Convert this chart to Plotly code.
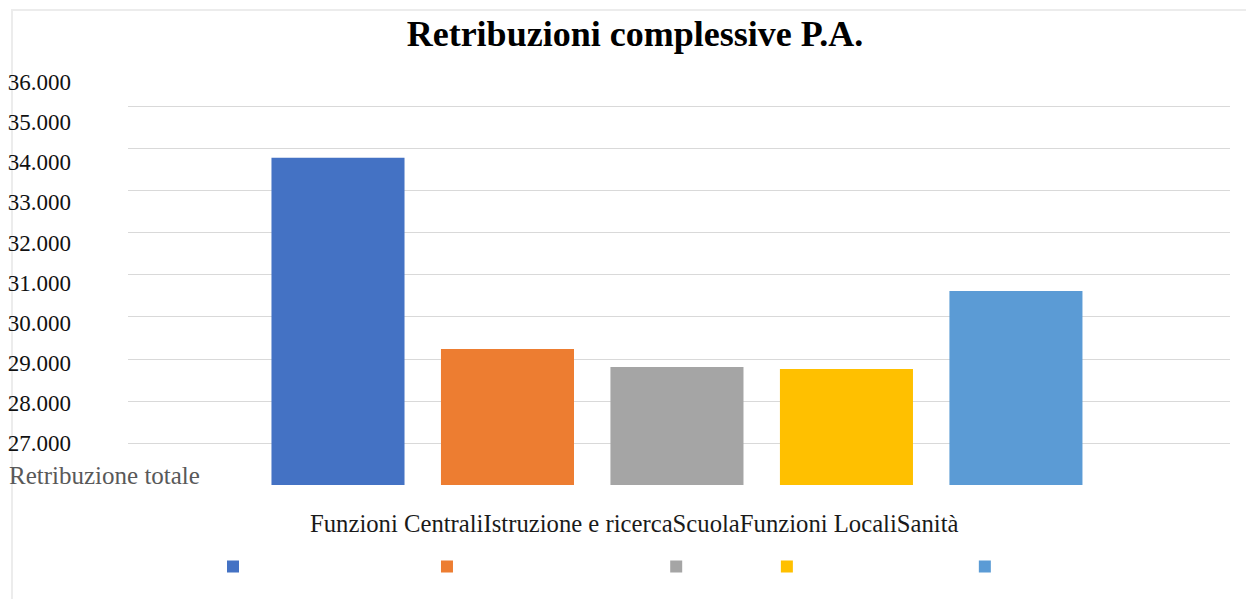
import plotly.graph_objects as go

categories = ["Funzioni Centrali", "Istruzione e ricerca", "Scuola", "Funzioni Locali", "Sanità"]
values = [33790, 29240, 28810, 28760, 30620]
colors = ["#4472C4", "#ED7D31", "#A5A5A5", "#FFC000", "#5B9BD5"]
tick_values = [27000, 28000, 29000, 30000, 31000, 32000, 33000, 34000, 35000, 36000]
tick_labels = ["27.000", "28.000", "29.000", "30.000", "31.000", "32.000", "33.000", "34.000", "35.000", "36.000"]
title_text = "Retribuzioni complessive P.A."
axis_caption = "Retribuzione totale"

SERIF = "Liberation Serif, Times New Roman, serif"

W, H = 1246, 591  # page body adds an 8px offset
PL, PR, PT, PB = 120, 1222, 64, 477  # plot area in figure pixels
PW, PH = PR - PL, PB - PT

fig = go.Figure()
for cat, val, col in zip(categories, values, colors):
    fig.add_trace(go.Bar(x=[cat], y=[val], name=cat, marker=dict(color=col, line=dict(width=0)),
                         showlegend=True))
# helper trace so the label axis exists
fig.add_trace(go.Scatter(x=[categories[0]], y=[None], yaxis="y2", showlegend=False,
                         mode="markers", marker=dict(opacity=0), hoverinfo="skip"))

fig.update_layout(
    width=W, height=H,
    paper_bgcolor="white", plot_bgcolor="white",
    margin=dict(l=PL, r=W - PR, t=PT, b=H - PB, pad=0, autoexpand=False),
    barmode="group", bargap=0.215,
    title=dict(text="<b>" + title_text + "</b>", x=627 / W, xanchor="center",
               y=1 - 25 / H, yref="container", yanchor="middle",
               font=dict(family=SERIF, size=36, color="#000000")),
    xaxis=dict(type="category", range=[-1.239, 5.263], showticklabels=False,
               showgrid=False, zeroline=False, showline=False, ticks="", automargin=False),
    yaxis=dict(range=[26000, 35833], dtick=1000, tick0=26000, showticklabels=False,
               showgrid=True, gridcolor="#d9d9d9", gridwidth=1, zeroline=False,
               showline=False, ticks="", automargin=False),
    yaxis2=dict(overlaying="y", side="left", range=[25952, 36252],
                tickmode="array", tickvals=tick_values, ticktext=tick_labels,
                showgrid=False, zeroline=False, showline=False, ticks="",
                ticklabelstandoff=56, automargin=False,
                tickfont=dict(family=SERIF, size=23, color="#111111")),
    legend=dict(orientation="h", xref="container", x=634 / W, xanchor="center",
                yref="container", y=1 - 559 / H, yanchor="middle",
                font=dict(family=SERIF, size=24, color="rgba(0,0,0,0)"),
                bgcolor="rgba(0,0,0,0)"),
    showlegend=True,
    annotations=[
        dict(text=axis_caption, xref="paper", yref="paper",
             x=(7 - 8 - PL) / PW, y=(PB - (475 - 8)) / PH, xanchor="left", yanchor="middle",
             showarrow=False, font=dict(family=SERIF, size=25, color="#595959")),
        dict(text="".join(categories), xref="paper", yref="paper",
             x=(634 - 8 - PL) / PW, y=(PB - (523 - 8)) / PH, xanchor="center", yanchor="middle",
             showarrow=False, font=dict(family=SERIF, size=24.7, color="#1a1a1a")),
    ],
    shapes=[dict(type="rect", xref="paper", yref="paper",
                 x0=(12 - 8 - PL) / PW, x1=(1300 - PL) / PW,
                 y0=(PB - 700) / PH, y1=(PB - (10 - 8)) / PH,
                 line=dict(color="#ececec", width=2), fillcolor="rgba(0,0,0,0)", layer="below")],
)

fig.write_html("out.html")
